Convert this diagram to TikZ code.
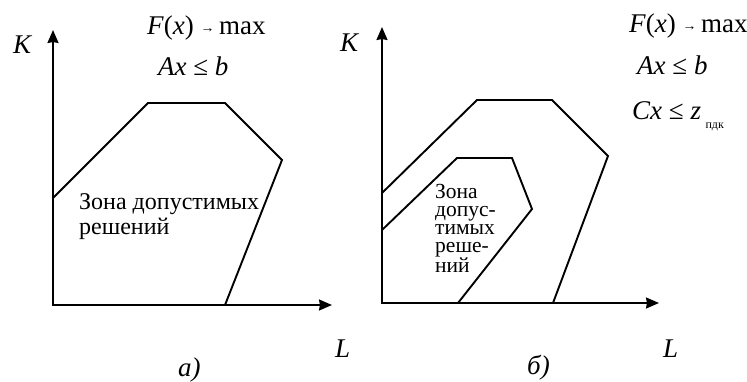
\documentclass[tikz,border=0pt]{standalone}
\usepackage{fontspec}
\setmainfont{Liberation Serif}
\usetikzlibrary{arrows.meta}
\tikzset{
  axis/.style={{Stealth[length=13pt,width=11pt,inset=1pt]}-{Stealth[length=13pt,width=11pt,inset=1pt]},line width=1.9pt},
  zone/.style={line width=1.9pt,line join=miter},
  lbl/.style={font=\fontsize{27}{30}\selectfont,inner sep=0pt,anchor=base west},
  cond/.style={font=\fontsize{27}{30}\selectfont,inner sep=0pt,anchor=base west},
  txt/.style={inner sep=0pt,anchor=north west,align=left}
}
\newcommand{\tomax}{{\fontsize{14}{14}\selectfont\raisebox{2pt}{→}}}

\begin{document}
\begin{tikzpicture}[x=1pt,y=-1pt]
\useasboundingbox (0,0) rectangle (747,381);
% panel a
\coordinate (Oa) at (53,305);
\coordinate (Ya) at (53,30);
\coordinate (Xa) at (332,305);
\draw[axis] (Ya) |- (Xa);
\node[lbl] (Ka) at (13,53) {\textit{K}};
\node[lbl] (La) at (335,357) {\textit{L}};
\node[lbl] (capa) at (178,376) {\textit{а)}};
\node[cond] (Fa) at (147,34) {\textit{F}(\textit{x}) \tomax\,max};
\node[cond] (Aa) at (158,75) {\textit{Ax} ≤ \textit{b}};
\draw[zone] (53,198) -- (148,103) -- (225,103) -- (282,160) -- (225,305);
\node[txt,font=\fontsize{24}{25}\selectfont] (za) at (79,193) {Зона допустимых\\решений};
% panel b
\coordinate (Ob) at (382,303);
\coordinate (Yb) at (382,27);
\coordinate (Xb) at (659,303);
\draw[axis] (Yb) |- (Xb);
\node[lbl] (Kb) at (340,51) {\textit{K}};
\node[lbl] (Lb) at (663,357) {\textit{L}};
\node[lbl] (capb) at (527,374) {\textit{б)}};
\node[cond] (Fb) at (629,32) {\textit{F}(\textit{x}) \tomax\,max};
\node[cond] (Ab) at (637,74) {\textit{Ax} ≤ \textit{b}};
\node[cond] (Cb) at (632,119) {\textit{Cx} ≤ \textit{z}\,\raisebox{-9pt}{\fontsize{12}{12}\selectfont пдк}};
\draw[zone] (382,193) -- (477,100) -- (552,100) -- (608,156) -- (553,303);
\draw[zone] (382,230) -- (457,158) -- (512,158) -- (532,209) -- (458,303);
\node[txt,font=\fontsize{21.5}{18}\selectfont] (zb) at (435,184) {Зона\\допус-\\тимых\\реше-\\ний};
\end{tikzpicture}
\end{document}
